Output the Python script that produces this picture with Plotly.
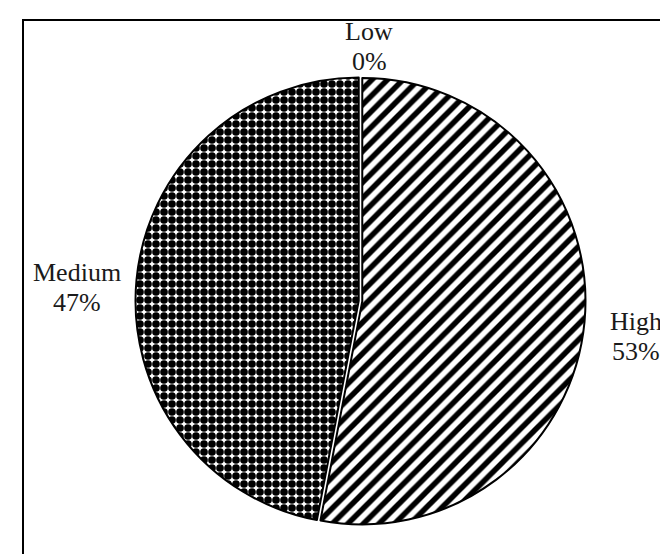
import plotly.graph_objects as go

labels = ["High", "Medium", "Low"]
values = [53, 47, 0]
shapes_ = ["/", ".", ""]

W, H = 668, 554
fig = go.Figure()
fig.add_trace(go.Pie(
    labels=labels,
    values=values,
    sort=False,
    direction="clockwise",
    rotation=0,
    textinfo="none",
    hoverinfo="label+percent",
    pull=[0.008, 0.008, 0],
    marker=dict(
        colors=["white", "white", "white"],
        line=dict(color="black", width=[2, 2, 0]),
        pattern=dict(shape=shapes_, fgcolor="black", bgcolor="white", fgopacity=1,
                     size=[11, 8, 8], solidity=[0.5, 0.72, 0.5], fillmode="replace"),
    ),
    domain=dict(x=[127/W, 578/W], y=[(H-518)/H, (H-68)/H]),
    showlegend=False,
))

total = sum(values)
# (x centre, y of name line, y of percent line) in pixels
label_pos = {"High": (628, 313, 343), "Medium": (69, 264, 294), "Low": (361, 24, 53)}
font = dict(family="Times New Roman, Liberation Serif, serif", size=26, color="#1a1a1a")
for lab, val in zip(labels, values):
    px, py1, py2 = label_pos[lab]
    for txt, py in ((lab, py1), (f"{round(100*val/total)}%", py2)):
        fig.add_annotation(
            x=px / W, y=1 - py / H, xref="paper", yref="paper",
            text=txt, showarrow=False, xanchor="center", yanchor="middle",
            font=font,
        )

fig.add_shape(type="rect", xref="paper", yref="paper",
              x0=15/W, x1=666/W, y0=-0.05, y1=1 - 12/H,
              line=dict(color="black", width=2), fillcolor="rgba(0,0,0,0)")

fig.update_layout(
    width=W, height=H,
    margin=dict(l=0, r=0, t=0, b=0),
    paper_bgcolor="white", plot_bgcolor="white",
)
fig.write_html("out.html")
